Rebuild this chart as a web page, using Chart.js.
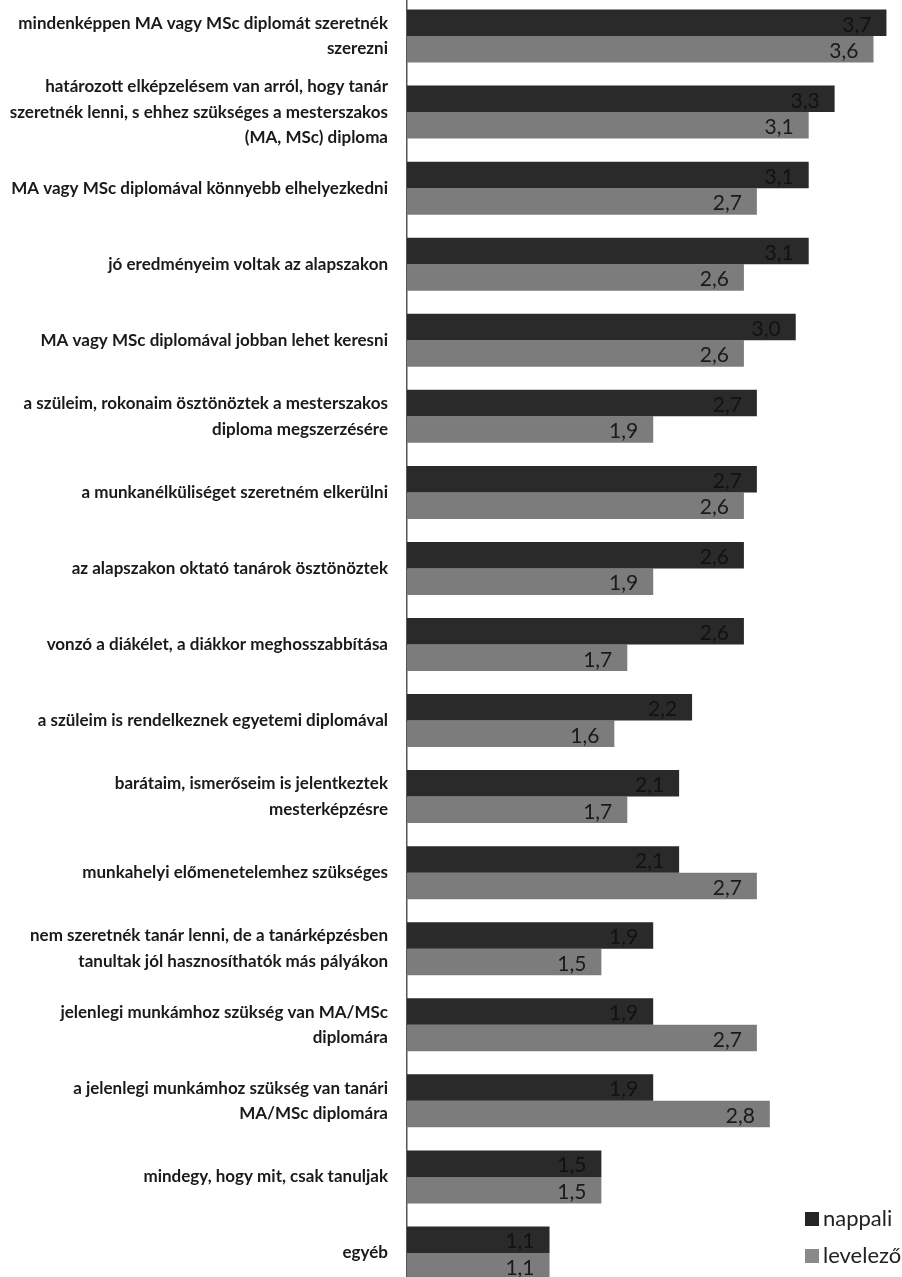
<!DOCTYPE html>
<html lang="hu">
<head>
<meta charset="UTF-8">
<title>Mesterképzés motivációk</title>
<script src="https://cdn.jsdelivr.net/npm/chart.js"></script>
<style>
    html, body { margin: 0; padding: 0; background: #fff; overflow: hidden; }
    #wrap { position: relative; width: 902px; height: 1293px; margin-top: -2px; }
</style>
</head>
<body>
<div id="wrap"><canvas id="chart"></canvas></div>
<script>
    // categories (multi-line labels as in the original)
    const categories = [
        ["mindenképpen MA vagy MSc diplomát szeretnék", "szerezni"],
        ["határozott elképzelésem van arról, hogy tanár", "szeretnék lenni, s ehhez szükséges a mesterszakos", "(MA, MSc) diploma"],
        "MA vagy MSc diplomával könnyebb elhelyezkedni",
        "jó eredményeim voltak az alapszakon",
        "MA vagy MSc diplomával jobban lehet keresni",
        ["a szüleim, rokonaim ösztönöztek a mesterszakos", "diploma megszerzésére"],
        "a munkanélküliséget szeretném elkerülni",
        "az alapszakon oktató tanárok ösztönöztek",
        "vonzó a diákélet, a diákkor meghosszabbítása",
        "a szüleim is rendelkeznek egyetemi diplomával",
        ["barátaim, ismerőseim is jelentkeztek", "mesterképzésre"],
        "munkahelyi előmenetelemhez szükséges",
        ["nem szeretnék tanár lenni, de a tanárképzésben", "tanultak jól hasznosíthatók más pályákon"],
        ["jelenlegi munkámhoz szükség van MA/MSc", "diplomára"],
        ["a jelenlegi munkámhoz szükség van tanári", "MA/MSc diplomára"],
        "mindegy, hogy mit, csak tanuljak",
        "egyéb"
    ];
    const nappali  = [3.7, 3.3, 3.1, 3.1, 3.0, 2.7, 2.7, 2.6, 2.6, 2.2, 2.1, 2.1, 1.9, 1.9, 1.9, 1.5, 1.1];
    const levelezo = [3.6, 3.1, 2.7, 2.6, 2.6, 1.9, 2.6, 1.9, 1.7, 1.6, 1.7, 2.7, 1.5, 2.7, 2.8, 1.5, 1.1];
    const seriesNames = ["nappali", "levelező"];

    const fmt = v => v.toFixed(1).replace(".", ",");

    // value labels inside the end of each bar
    const valueLabels = {
        id: "valueLabels",
        afterDatasetsDraw(chart) {
            const ctx = chart.ctx;
            ctx.save();
            ctx.font = "21px Lato";
            ctx.textAlign = "right";
            ctx.textBaseline = "middle";
            chart.data.datasets.forEach((ds, i) => {
                ctx.fillStyle = i === 0 ? "#121212" : "#1a1a1a";
                chart.getDatasetMeta(i).data.forEach((bar, j) => {
                    ctx.fillText(fmt(ds.data[j]), bar.x - 15, bar.y + 2);
                });
            });
            ctx.restore();
        }
    };

    // legend in the lower right corner
    const cornerLegend = {
        id: "cornerLegend",
        afterDraw(chart) {
            const ctx = chart.ctx;
            ctx.save();
            ctx.font = "22px Lato";
            ctx.textBaseline = "middle";
            ctx.textAlign = "left";
            const swatch = ["#262626", "#8a8a8a"];
            chart.data.datasets.forEach((ds, i) => {
                let y = 1221 + i * 37;
                ctx.fillStyle = swatch[i];
                ctx.fillRect(805, y - 7, 14, 14);
                ctx.fillStyle = "#222";
                ctx.fillText(ds.label, 823, y);
            });
            ctx.restore();
        }
    };

    new Chart(document.getElementById("chart"), {
        type: "bar",
        data: {
            labels: categories,
            datasets: [
                { label: seriesNames[0], data: nappali, backgroundColor: "#2a2a2a" },
                { label: seriesNames[1], data: levelezo, backgroundColor: "#7c7c7c" }
            ]
        },
        options: {
            indexAxis: "y",
            responsive: true,
            maintainAspectRatio: false,
            animation: false,
            categoryPercentage: 0.697,
            barPercentage: 1.0,
            layout: { padding: 0 },
            plugins: {
                legend: { display: false },
                tooltip: { enabled: false }
            },
            scales: {
                x: {
                    display: false,
                    min: 0,
                    max: 3.82
                },
                y: {
                    grid: { display: false, drawTicks: false },
                    border: { display: true, color: "#555", width: 1.5 },
                    ticks: {
                        autoSkip: false,
                        padding: 19,
                        color: "#1a1a1a",
                        font: { family: "Lato", size: 17, weight: "bold", lineHeight: 1.5 }
                    },
                    afterFit(scale) {
                        scale.width = 407;
                        scale.paddingTop = 0;
                        scale.paddingBottom = 0;
                    }
                }
            }
        },
        plugins: [valueLabels, cornerLegend]
    });
</script>
</body>
</html>
